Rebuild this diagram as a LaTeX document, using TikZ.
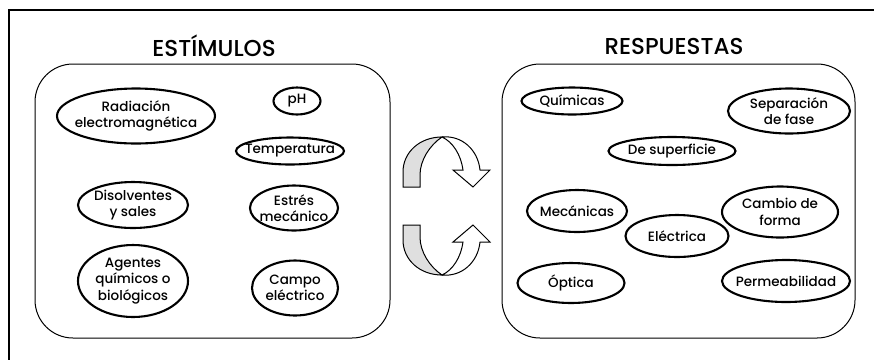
\documentclass[tikz,border=0pt]{standalone}
\usepackage{fontspec}
\setmainfont{Poppins Medium}
\usetikzlibrary{shapes.geometric}
\tikzset{
  ell/.style={ellipse, draw, line width=2.1pt, inner sep=0pt},
  lbl/.style={font=\fontsize{13.5}{16.5}\selectfont, align=center, inner sep=0pt},
  ttl/.style={font=\fontsize{23}{25}\selectfont, inner sep=0pt},
  panel/.style={draw, line width=1pt, rounded corners=38pt},
  back/.style={draw, line width=1pt, fill=gray!25},
  front/.style={draw, line width=1pt, fill=white},
}
\begin{document}
\begin{tikzpicture}[x=1pt,y=-1pt]
\useasboundingbox (0,0) rectangle (874,360);
% frame
\draw[line width=2.2pt] (874,10) -- (9,10) -- (9,360);
% titles
\node[ttl] (t1) at (214,46) {ESTÍMULOS};
\node[ttl] (t2) at (674,46) {RESPUESTAS};
% panels
\draw[panel] (35,64) rectangle (390,338);
\draw[panel] (502,64) rectangle (855,338);
% stimuli
\node[ell, minimum width=158pt, minimum height=55pt, label={[lbl]center:Radiación\\electromagnética}] (s1) at (136,116) {};
\node[ell, minimum width=47pt, minimum height=27pt, label={[lbl]center:pH}] (s2) at (297,101) {};
\node[ell, minimum width=108pt, minimum height=27pt, label={[lbl]center:Temperatura}] (s3) at (290,151) {};
\node[ell, minimum width=110pt, minimum height=46pt, label={[lbl]center:Disolventes\\y sales}] (s4) at (133,205) {};
\node[ell, minimum width=88pt, minimum height=45pt, label={[lbl]center:Estrés\\mecánico}] (s5) at (294,208) {};
\node[ell, minimum width=110pt, minimum height=72pt, label={[lbl]center:Agentes\\químicos o\\biológicos}] (s6) at (133,281) {};
\node[ell, minimum width=86pt, minimum height=55pt, label={[lbl]center:Campo\\eléctrico}] (s7) at (295,288) {};
% responses
\node[ell, minimum width=101pt, minimum height=27pt, label={[lbl]center:Químicas}] (r1) at (572,101) {};
\node[ell, minimum width=122pt, minimum height=45pt, label={[lbl]center:Separación\\de fase}] (r2) at (789,111) {};
\node[ell, minimum width=127pt, minimum height=28pt, label={[lbl]center:De superficie}] (r3) at (672,151) {};
\node[ell, minimum width=100pt, minimum height=42pt, label={[lbl]center:Mecánicas}] (r4) at (577,211) {};
\node[ell, minimum width=116pt, minimum height=51pt, label={[lbl]center:Cambio de\\forma}] (r5) at (780,212) {};
\node[ell, minimum width=103pt, minimum height=42pt, label={[lbl]center:Eléctrica}] (r6) at (677,236) {};
\node[ell, minimum width=107pt, minimum height=40pt, label={[lbl]center:Óptica}] (r7) at (571,283) {};
\node[ell, minimum width=128pt, minimum height=42pt, label={[lbl]center:Permeabilidad}] (r8) at (786,281) {};
% top curved arrow
\draw[back] (403,187) -- (403,172) .. controls (403,152) and (420,137) .. (442,137)
  .. controls (430,145) and (420,160) .. (420,175) -- (420,187) -- cycle;
\draw[front] (442,137) .. controls (462,135) and (478,150) .. (480,170)
  -- (490,170) -- (473,187) -- (453,170) -- (463,170)
  .. controls (461,155) and (453,142) .. (442,137) -- cycle;
% bottom curved arrow
\draw[back] (403,225) -- (403,240) .. controls (403,260) and (420,275) .. (442,275)
  .. controls (430,267) and (420,252) .. (420,237) -- (420,225) -- cycle;
\draw[front] (442,275) .. controls (462,277) and (478,262) .. (480,242)
  -- (490,242) -- (473,225) -- (453,242) -- (463,242)
  .. controls (461,257) and (453,270) .. (442,275) -- cycle;
\end{tikzpicture}
\end{document}
